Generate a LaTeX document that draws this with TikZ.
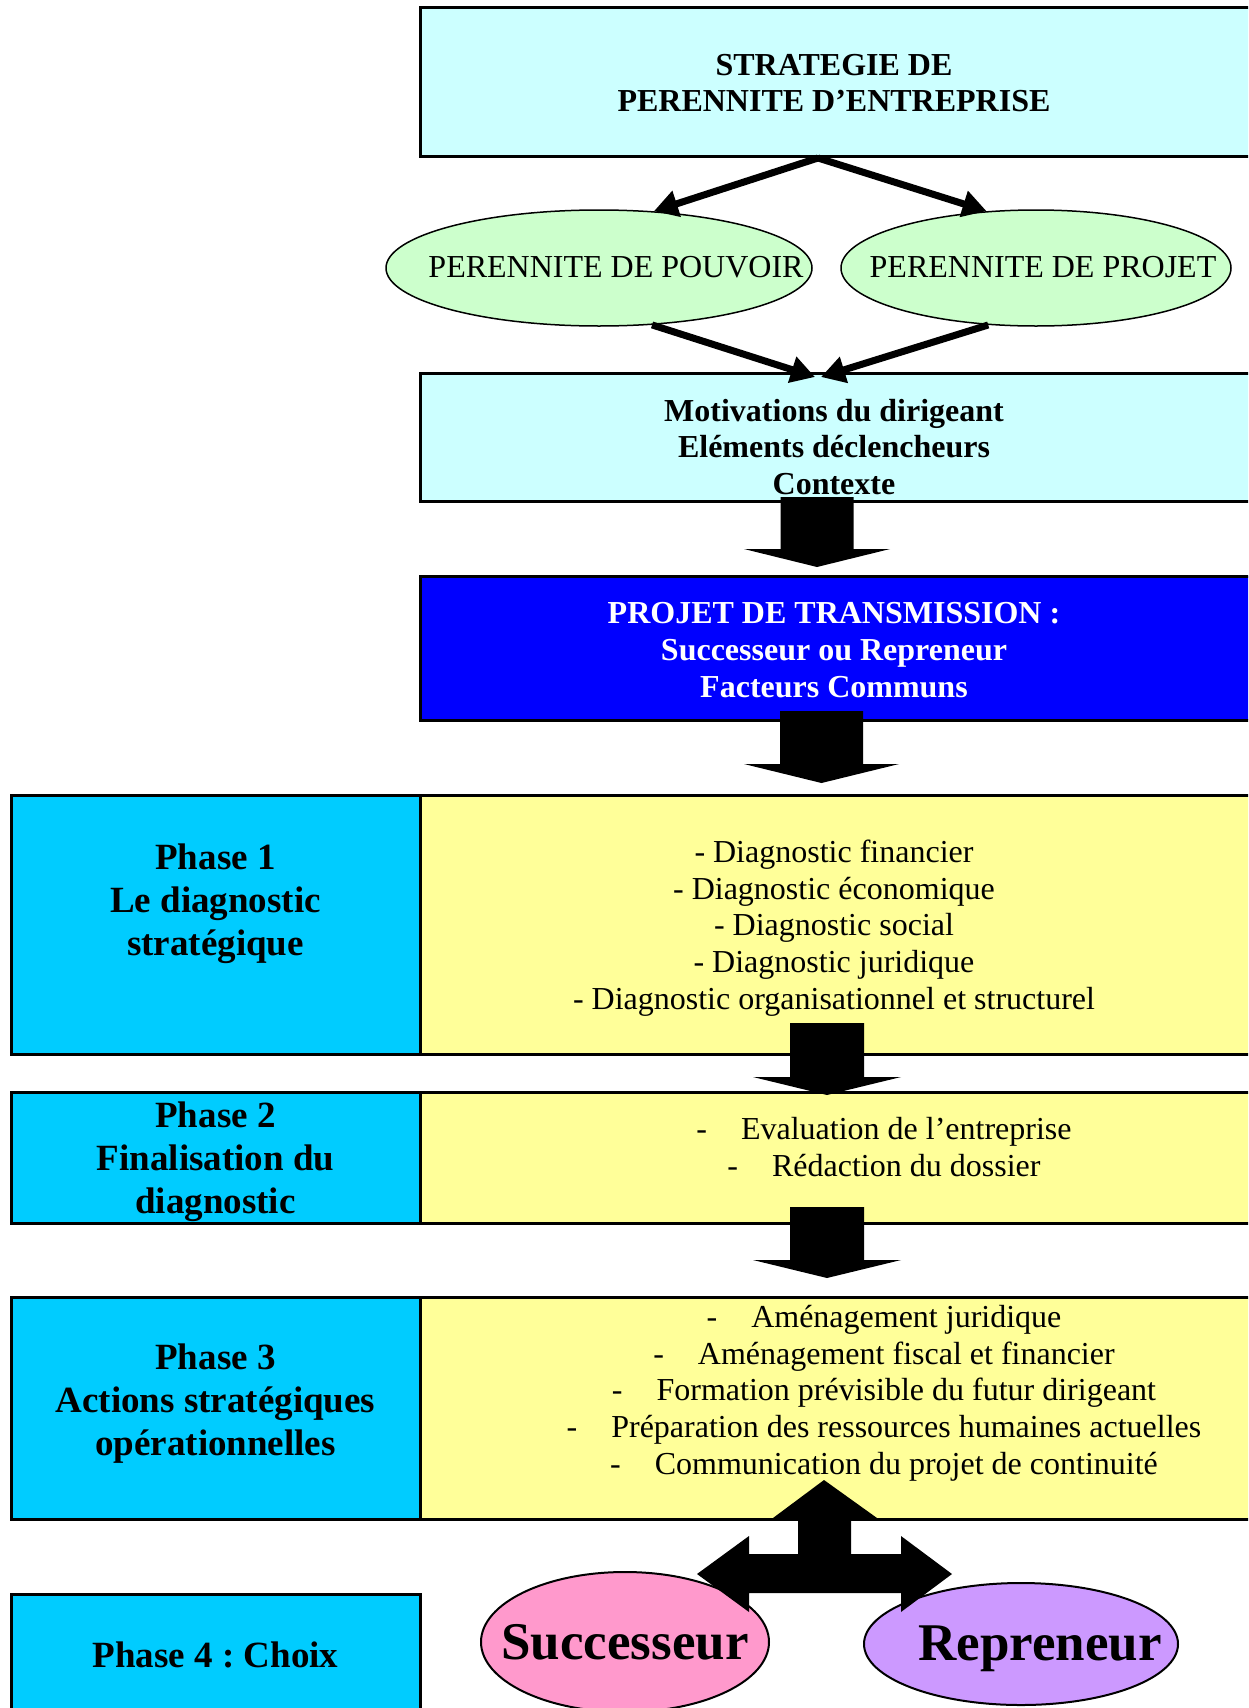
\documentclass[tikz,border=0pt]{standalone}
\usepackage{fontspec}
\setmainfont{Liberation Serif}
\usetikzlibrary{arrows.meta,shapes.geometric}
\definecolor{lcyan}{HTML}{CCFFFF}
\definecolor{lgreen}{HTML}{CCFFCC}
\definecolor{pblue}{HTML}{0000FF}
\definecolor{phcyan}{HTML}{00CCFF}
\definecolor{pyellow}{HTML}{FFFF99}
\definecolor{ppink}{HTML}{FF99CC}
\definecolor{pviolet}{HTML}{CC99FF}
\tikzset{
  pics/blockdown/.style n args={4}{code={%
    \fill[black] (-#1,0) -- (#1,0) -- (#1,#3) -- (#2,#3) -- (0,#4) -- (-#2,#3) -- (-#1,#3) -- cycle;}},
}
\frenchspacing
\begin{document}
\begin{tikzpicture}[x=1pt,y=-1pt,
  box/.style={draw=black, line width=3pt, inner sep=0pt, outer sep=0pt, anchor=north west},
  ell/.style={ellipse, draw=black, line width=1.5pt, inner sep=0pt},
  txt/.style={inner sep=0pt, align=center, font=\fontsize{32}{36.7}\selectfont},
  txtb/.style={inner sep=0pt, align=center, font=\fontsize{32}{36.7}\selectfont\bfseries},
  phase/.style={inner sep=0pt, align=center, font=\fontsize{37}{43}\selectfont\bfseries},
  big/.style={inner sep=0pt, font=\fontsize{53}{60}\selectfont\bfseries},
  conn/.style={line width=7pt, -{Triangle[length=24pt,width=26pt]}},
]
\useasboundingbox (0,0) rectangle (1248,1708);
\clip (0,0) rectangle (1248,1708);

% top box
\node[box, fill=lcyan, minimum width=840pt, minimum height=149pt] (top) at (420,7) {};
\node[txtb] (toptxt) at (834,83) {STRATEGIE DE\\PERENNITE D’ENTREPRISE};

% ellipses
\node[ell, fill=lgreen, minimum width=426pt, minimum height=116pt] (e1) at (599,268) {};
\node[ell, fill=lgreen, minimum width=390pt, minimum height=116pt] (e2) at (1036,268) {};
\node[txt] (e1t) at (616,267) {PERENNITE DE POUVOIR};
\node[txt] (e2t) at (1043,267) {PERENNITE DE PROJET};

% motivations box
\node[box, fill=lcyan, minimum width=840pt, minimum height=128pt] (mot) at (420,373) {};
\node[txtb] (mott) at (834,447) {Motivations du dirigeant\\Eléments déclencheurs\\Contexte};

% arrows top
\coordinate (tsplit) at (818,158);
\coordinate (m1) at (815,377);
\coordinate (m2) at (821,377);
\draw[conn] (tsplit) -- (e1.46);
\draw[conn] (tsplit) -- (e2.131);
\draw[conn] (e1.-47) -- (m1);
\draw[conn] (e2.-130) -- (m2);

% blue box
\node[box, fill=pblue, minimum width=840pt, minimum height=144pt] (proj) at (420,576) {};
\node[txtb, text=white] (projt) at (834,650) {PROJET DE TRANSMISSION :\\Successeur ou Repreneur\\Facteurs Communs};

% phase 1
\node[box, fill=phcyan, minimum width=409pt, minimum height=259pt] (p1l) at (11,795) {};
\node[box, fill=pyellow, minimum width=840pt, minimum height=259pt] (p1r) at (420,795) {};
\node[phase] (p1lt) at (215.5,904) {Phase 1\\Le diagnostic\\stratégique};
\node[txt] (p1rt) at (834,928) {- Diagnostic financier\\- Diagnostic économique\\- Diagnostic social\\- Diagnostic juridique\\- Diagnostic organisationnel et structurel};

% phase 2
\node[box, fill=phcyan, minimum width=409pt, minimum height=131pt] (p2l) at (11,1092) {};
\node[box, fill=pyellow, minimum width=840pt, minimum height=131pt] (p2r) at (420,1092) {};
\node[phase] (p2lt) at (215.5,1162) {Phase 2\\Finalisation du\\diagnostic};
\node[txt] (p2rt) at (884,1147) {-\hspace{34pt}Evaluation de l’entreprise\\-\hspace{34pt}Rédaction du dossier};

% phase 3
\node[box, fill=phcyan, minimum width=409pt, minimum height=222pt] (p3l) at (11,1297) {};
\node[box, fill=pyellow, minimum width=840pt, minimum height=222pt] (p3r) at (420,1297) {};
\node[phase] (p3lt) at (215.5,1404) {Phase 3\\Actions stratégiques\\opérationnelles};
\node[txt] (p3rt) at (884,1393) {-\hspace{34pt}Aménagement juridique\\-\hspace{34pt}Aménagement fiscal et financier\\-\hspace{34pt}Formation prévisible du futur dirigeant\\-\hspace{34pt}Préparation des ressources humaines actuelles\\-\hspace{34pt}Communication du projet de continuité};

% phase 4
\node[box, fill=phcyan, minimum width=409pt, minimum height=140pt] (p4l) at (11,1594) {};
\node[phase] (p4lt) at (215.5,1655) {Phase 4 : Choix};

% choice ellipses
\node[ell, line width=2pt, fill=ppink, minimum width=288pt, minimum height=140pt] (succ) at (625,1642) {};
\node[ell, line width=2pt, fill=pviolet, minimum width=314pt, minimum height=122pt] (rep) at (1021,1644) {};
\node[big] (succt) at (625,1642) {Successeur};
\node[big] (rept) at (1040,1649) {Repreneur};

% block arrows
\pic at (817,497) {blockdown={36.5}{73}{52}{70}};
\pic at (821.5,711) {blockdown={41.5}{77.5}{53}{72}};
\pic at (827,1023) {blockdown={37}{74}{54}{72}};
\pic at (827,1207) {blockdown={37}{74}{53}{71}};

% T-shaped arrow
\fill[black] (824,1480) -- (877,1518) -- (851,1518) -- (851,1554) -- (901,1554) -- (901,1536) -- (952,1574) -- (901,1612) -- (901,1593) -- (749,1593) -- (749,1612) -- (697,1574) -- (749,1536) -- (749,1554) -- (798,1554) -- (798,1518) -- (773,1518) -- cycle;
\end{tikzpicture}
\end{document}
